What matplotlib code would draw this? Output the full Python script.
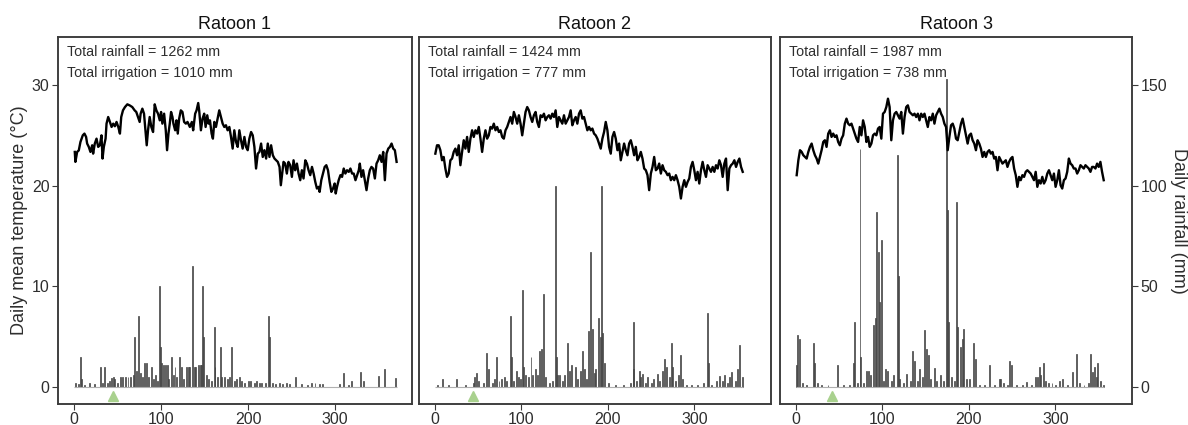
import numpy as np
import matplotlib.pyplot as plt

plt.rcParams['font.family'] = ['Liberation Sans', 'DejaVu Sans']

# panel titles and season totals
titles = ['Ratoon 1', 'Ratoon 2', 'Ratoon 3']
total_rain = [1262, 1424, 1987]
total_irrig = [1010, 777, 738]
planting_day = [45, 44, 42]

# daily mean temperature (deg C), ratoon 1
day_1 = [0.8, 1.5, 3.5, 5.4, 7.3, 10, 11.9, 13.8, 15, 16.9,
         18.8, 20.8, 21.9, 23.8, 25.8, 27.7, 29.6, 31.5, 32.7, 34.2,
         36.2, 37.3, 39.2, 41.2, 43.1, 45, 46.9, 48.8, 50.8, 52.7,
         54.2, 56.2, 58.5, 61.2, 63.8, 66.9, 69.6, 71.5, 73.5, 75.4,
         76.5, 78.5, 80.4, 82.3, 83.5, 85, 86.9, 88.8, 90.8, 92.7,
         94.6, 96.5, 98.5, 100, 101.5, 103.5, 105.4, 106.9, 108.5, 110,
         111.5, 113.1, 114.2, 116.2, 117.7, 119.2, 120.8, 122.7, 124.6, 126.5,
         128.5, 130.4, 133.1, 135.4, 136.9, 139.2, 140.8, 142.7, 143.8, 145.8,
         147.7, 149.6, 151.2, 153.1, 154.6, 156.2, 158.1, 159.6, 161.2, 163.1,
         165, 166.9, 168.8, 170.8, 172.7, 174.6, 176.5, 178.5, 180.4, 182.3,
         184.2, 186.2, 188.1, 190, 191.9, 193.8, 195.8, 197.7, 199.6, 201.5,
         203.5, 205.4, 207.3, 209.2, 211.2, 213.1, 215, 216.9, 218.8, 220.8,
         222.7, 224.6, 226.5, 228.5, 230.4, 232.3, 234.2, 236.2, 237.7, 239.2,
         240.8, 242.7, 244.6, 246.5, 248.5, 250.4, 252.3, 254.2, 256.2, 258.1,
         260, 261.9, 263.8, 265.8, 267.7, 269.6, 271.5, 273.5, 275.4, 277.3,
         279.2, 281.2, 282.3, 284.2, 286.2, 288.1, 290, 291.9, 293.8, 295.8,
         297.7, 299.6, 300.8, 302.3, 304.2, 306.2, 308.1, 310, 311.9, 313.8,
         315.8, 317.7, 319.6, 321.5, 323.5, 325.4, 327.3, 328.5, 330.4, 332.3,
         334.2, 336.2, 338.1, 340, 341.9, 343.8, 345.8, 347.7, 349.6, 351.5,
         353.5, 355.4, 357.3, 359.2, 361.2, 363.1, 365, 366.9, 368.8, 370.8]
temp_1 = [23.35, 22.36, 23.35, 23.5, 24.34, 25.0, 25.17, 24.84, 24.18, 23.85,
          23.35, 24.01, 23.18, 24.18, 24.67, 23.85, 24.01, 25.0, 22.69, 23.85,
          24.67, 26.16, 26.82, 26.33, 25.83, 26.16, 25.9, 26.33, 25.83, 25.17,
          26.82, 27.48, 27.81, 28.08, 27.98, 27.81, 27.48, 27.32, 26.82, 26.33,
          27.15, 27.65, 27.15, 25.17, 24.01, 25.5, 26.82, 25.83, 25.33, 28.08,
          27.48, 27.15, 26.49, 27.32, 26.16, 27.15, 25.5, 23.52, 25.17, 26.16,
          27.32, 26.82, 26.16, 25.5, 26.49, 25.17, 26.66, 27.48, 27.32, 26.33,
          26.16, 26.33, 25.83, 26.33, 25.5, 27.15, 27.48, 28.21, 27.48, 25.5,
          26.66, 27.15, 25.83, 26.99, 26.16, 26.49, 25.17, 24.67, 26.33, 25.83,
          26.66, 27.48, 26.82, 26.16, 25.83, 26.0, 25.5, 25.83, 24.84, 23.68,
          25.5, 24.34, 23.85, 25.5, 24.51, 23.68, 24.84, 23.85, 23.52, 24.67,
          25.33, 25.0, 23.85, 21.7, 23.18, 23.35, 24.18, 22.85, 23.52, 22.69,
          24.18, 22.85, 24.01, 23.02, 22.69, 22.52, 22.36, 21.86, 20.04, 21.2,
          22.36, 22.19, 21.2, 22.36, 22.03, 20.87, 22.52, 21.53, 22.19, 21.2,
          20.54, 21.53, 20.71, 22.52, 22.19, 21.53, 21.04, 21.86, 21.2, 20.37,
          19.71, 19.88, 19.38, 20.54, 21.2, 21.86, 22.03, 21.53, 20.37, 19.38,
          19.71, 20.21, 19.22, 19.88, 20.54, 21.04, 20.87, 21.7, 21.2, 21.53,
          21.37, 21.7, 21.2, 21.2, 20.54, 21.04, 21.53, 22.19, 20.87, 21.53,
          20.54, 19.55, 20.71, 21.53, 21.86, 21.7, 20.71, 22.19, 22.52, 23.02,
          22.36, 23.35, 20.54, 23.18, 23.68, 23.85, 24.18, 23.68, 23.52, 22.36]

# ratoon 2, read about every 1.9 days from day 0.4 to 355.8
temp_2 = [23.18, 24.01, 24.01, 23.52, 22.52, 22.85, 21.7, 20.87, 21.2, 22.52,
          22.69, 23.35, 23.68, 23.02, 24.01, 22.03, 23.35, 24.51, 23.68, 24.84,
          23.35, 24.67, 25.5, 24.84, 25.5, 25.17, 25.83, 24.67, 23.35, 24.67,
          25.5, 24.67, 25.0, 25.83, 25.67, 26.16, 25.5, 25.83, 25.33, 25.5,
          24.84, 24.67, 25.5, 25.83, 26.33, 26.82, 26.16, 27.32, 26.82, 26.16,
          26.99, 26.16, 25.0, 26.16, 27.32, 27.81, 27.48, 26.82, 26.33, 26.99,
          27.32, 26.33, 25.83, 26.99, 26.82, 27.15, 26.49, 26.82, 26.99, 26.66,
          27.15, 26.82, 27.48, 25.83, 26.82, 26.49, 26.16, 26.99, 26.16, 26.49,
          26.82, 27.48, 26.0, 26.49, 26.82, 26.16, 27.15, 27.48, 26.66, 26.82,
          26.16, 25.5, 25.83, 25.5, 25.67, 25.17, 25.0, 24.67, 24.18, 23.68,
          24.67, 25.33, 26.33, 25.5, 23.85, 23.18, 24.84, 25.33, 24.67, 23.52,
          24.18, 22.52, 23.35, 24.18, 23.52, 23.02, 24.18, 24.51, 23.85, 23.02,
          23.85, 22.52, 22.85, 23.35, 22.69, 21.7, 21.53, 21.04, 19.55, 21.2,
          21.86, 22.85, 21.53, 21.7, 22.19, 21.2, 22.03, 21.53, 21.37, 21.04,
          21.2, 20.54, 20.87, 20.54, 21.04, 20.54, 19.88, 18.72, 19.88, 20.54,
          19.88, 20.37, 20.71, 21.86, 22.36, 21.53, 20.54, 21.37, 20.21, 21.53,
          22.36, 21.53, 20.87, 22.03, 21.7, 21.37, 21.86, 21.37, 22.03, 21.7,
          22.52, 22.03, 20.87, 22.19, 22.69, 19.55, 21.7, 22.03, 22.19, 22.52,
          21.86, 22.36, 22.69, 21.86, 21.37]
day_2 = np.linspace(0.4, 355.8, len(temp_2))

# ratoon 3, read about every 1.9 days from day 0.8 to 355.8
temp_3 = [21.04, 22.52, 23.52, 23.35, 23.02, 22.85, 22.69, 23.35, 23.85, 24.18,
          23.52, 23.02, 22.69, 22.19, 22.85, 23.52, 24.34, 24.51, 23.85, 25.17,
          25.5, 24.84, 25.17, 24.84, 25.0, 24.34, 24.01, 24.67, 25.0, 26.16,
          26.66, 26.16, 26.0, 26.16, 25.67, 25.17, 24.67, 24.34, 25.83, 25.0,
          26.49, 25.83, 24.34, 24.84, 23.85, 24.18, 25.0, 25.17, 25.0, 25.67,
          25.83, 24.67, 27.15, 27.32, 27.81, 28.64, 27.81, 24.51, 26.49, 27.15,
          27.32, 26.99, 26.66, 27.32, 25.17, 26.82, 27.81, 27.98, 27.32, 27.15,
          26.99, 27.15, 26.82, 27.15, 26.49, 27.15, 26.82, 27.15, 26.49, 25.83,
          26.82, 26.49, 27.15, 26.16, 26.99, 27.32, 27.65, 27.15, 26.82, 26.16,
          25.83, 23.52, 24.84, 26.0, 26.16, 25.67, 24.67, 24.51, 25.33, 26.16,
          26.66, 25.83, 25.0, 24.18, 25.0, 25.17, 24.51, 24.18, 23.52, 24.51,
          24.18, 23.68, 22.85, 23.35, 22.85, 23.35, 23.52, 23.18, 23.35, 22.69,
          22.85, 21.53, 22.85, 22.52, 22.19, 22.36, 22.52, 21.86, 22.36, 22.69,
          22.85, 21.7, 21.04, 19.88, 20.87, 20.54, 21.04, 20.87, 21.37, 21.53,
          21.37, 21.2, 20.87, 20.54, 21.37, 19.88, 20.54, 20.21, 20.87, 20.21,
          20.54, 21.2, 21.53, 21.04, 20.54, 21.2, 19.88, 20.54, 21.53, 20.04,
          19.71, 20.54, 20.71, 21.37, 22.69, 22.19, 22.03, 21.7, 21.7, 21.2,
          21.53, 22.03, 21.86, 21.7, 22.03, 21.86, 21.7, 21.37, 21.86, 21.86,
          21.7, 22.19, 21.86, 22.36, 21.37, 20.54]
day_3 = np.linspace(0.8, 355.8, len(temp_3))

# daily rainfall (mm), only days with rain listed
rain_day_1 = [2, 5, 7, 9, 12, 18, 24, 30, 33, 35, 38, 41, 43, 45, 47, 50, 53, 56, 59, 62,
              65, 68, 70, 72, 74, 76, 79, 81, 83, 86, 89, 91, 94, 96, 98, 99, 101, 103, 105, 107,
              109, 112, 114, 116, 118, 121, 124, 126, 129, 131, 133, 136, 138, 140, 143, 145, 147, 148, 149, 152,
              155, 158, 161, 162, 165, 168, 170, 173, 176, 179, 181, 184, 187, 190, 193, 196, 200, 203, 207, 210,
              213, 216, 220, 224, 225, 228, 232, 236, 240, 244, 248, 255, 262, 268, 273, 277, 282, 286, 305, 310,
              315, 319, 329, 333, 350, 357, 370]
rain_1 = [2, 1.5, 15, 4, 1, 2, 1.5, 10, 2, 10, 2, 3, 4.5, 5, 4, 2, 5, 5, 5, 5,
          5, 6, 25, 8, 35, 7, 5, 12, 12, 5, 10, 4, 6, 3, 50, 20, 12, 11, 11, 11,
          4, 15, 6, 10, 5, 15, 10, 4, 10, 10, 10, 60, 10, 10, 11, 11, 11, 50, 25, 6,
          4, 3, 30, 10, 5, 20, 5, 5, 4, 5, 20, 3, 4, 5, 3, 2, 3, 3, 2, 3,
          2, 2, 2, 35, 25, 2, 1.5, 2, 1.5, 2, 1.5, 5, 1.5, 1, 2, 2, 1.5, 1.5, 1.5, 7,
          1, 3, 7.5, 3, 5.5, 9, 4.5]

rain_day_2 = [3, 9, 16, 25, 35, 44, 46, 48, 50, 56, 59, 62, 66, 69, 71, 74, 77, 80, 83, 87,
              88, 91, 94, 97, 99, 101, 102, 105, 108, 111, 113, 116, 119, 121, 123, 126, 128, 132, 136, 139,
              140, 142, 144, 147, 150, 153, 155, 158, 162, 165, 168, 171, 173, 175, 177, 180, 182, 184, 186, 189,
              191, 193, 194, 196, 201, 209, 218, 226, 229, 230, 233, 236, 238, 240, 243, 246, 250, 253, 257, 260,
              263, 265, 268, 271, 273, 275, 278, 282, 284, 286, 291, 297, 303, 310, 315, 316, 320, 326, 329, 332,
              335, 338, 340, 343, 347, 350, 352, 355]
rain_2 = [1, 4, 1, 4, 1, 2, 5, 7, 3, 2, 17, 9, 2, 4, 15, 3, 4, 5, 3, 35,
          15, 3, 8, 5, 4, 48, 10, 6, 5, 15, 6, 9, 6, 18, 19, 46, 5, 2, 3, 100,
          15, 6, 6, 3, 6, 22, 8, 11, 10, 4, 8, 18, 9, 4, 28, 67, 29, 7, 9, 34,
          25, 100, 27, 12, 2, 1, 1, 2, 9, 32, 3, 8, 5, 6.5, 2, 5, 2, 4, 6.5, 3,
          8, 14, 10, 5, 22, 10, 3, 6, 16, 4, 1, 1, 1, 2, 36.5, 12, 1, 3, 5.5, 3,
          6, 2, 5, 7.5, 3, 9, 21, 5]

rain_day_3 = [1, 2, 4, 7, 12, 20, 21, 25, 30, 37, 48, 55, 62, 66, 68, 71, 74, 75, 78, 82,
              84, 86, 90, 92, 93, 95, 97, 99, 101, 104, 106, 110, 113, 117, 118, 120, 124, 128, 132, 135,
              137, 140, 143, 146, 149, 151, 153, 156, 160, 163, 167, 171, 174, 175, 176, 180, 183, 186, 187, 190,
              192, 194, 197, 201, 205, 208, 212, 218, 224, 230, 235, 237, 240, 244, 247, 249, 255, 262, 267, 272,
              277, 279, 281, 283, 286, 289, 292, 296, 300, 305, 308, 314, 320, 324, 328, 333, 338, 341, 343, 345,
              347, 349, 352, 355]
rain_3 = [11, 26, 24, 2, 1, 22, 12, 2, 1, 1, 11, 1, 1, 12, 32, 2, 118, 15, 2, 8,
          8, 6, 31, 34, 87, 67, 42, 73, 3, 9, 8, 3, 6, 115, 55, 4, 2, 6.5, 3, 18,
          12.7, 3, 9, 5, 28.5, 19, 16, 4, 9.5, 3, 6, 3, 153, 88, 32, 5, 3, 92, 30, 20,
          24, 29, 4, 4, 21.7, 14, 1, 1, 11, 1, 4, 4, 2, 1, 13, 11, 1, 1, 2.6, 1,
          5, 5, 9.8, 6, 12, 3, 2, 2, 1, 3, 4, 1, 7.6, 16.4, 2, 1, 2, 16.4, 7.6, 9.8,
          5, 12, 3, 1]

temp_days = [day_1, day_2, day_3]
temps = [temp_1, temp_2, temp_3]
rain_days = [rain_day_1, rain_day_2, rain_day_3]
rains = [rain_1, rain_2, rain_3]

fig = plt.figure(figsize=(11.88, 4.25), dpi=100)
lefts = [58 / 1188, 419 / 1188, 780 / 1188]
widths = [354 / 1188, 352 / 1188, 352 / 1188]

frame_col = '#3a3a3a'
text_col = '#2e2e2e'

for i in range(3):
    ax = fig.add_axes([lefts[i], 21 / 425, widths[i], 367 / 425])
    axr = ax.twinx()
    # temperature on top of the rain bars
    ax.set_zorder(axr.get_zorder() + 1)
    ax.patch.set_visible(False)

    # rainfall bars and zero baseline
    axr.hlines(0, 0, max(temp_days[i]), color='#b0b0b0', lw=0.8)
    axr.bar(rain_days[i], rains[i], width=1.1, color='#7a7a7a',
            edgecolor='#3c3c3c', linewidth=0.5)
    axr.plot(planting_day[i], -4.6, marker='^', color='#a9d18e',
             markersize=7, clip_on=False)

    ax.plot(temp_days[i], temps[i], color='black', lw=1.7)

    ax.set_xlim(-18.5, 388.5)
    ax.set_ylim(-1.7, 34.77)
    axr.set_ylim(-8.5, 173.85)
    ax.set_xticks([0, 100, 200, 300])
    ax.set_yticks([0, 10, 20, 30])
    axr.set_yticks([0, 50, 100, 150])

    for a in (ax, axr):
        for s in a.spines.values():
            s.set_color(frame_col)
            s.set_linewidth(1.1)
        a.tick_params(colors=frame_col, labelcolor=text_col, labelsize=11.5,
                      length=4, width=0.8, pad=2)

    if i == 0:
        ax.set_ylabel('Daily mean temperature (°C)', fontsize=13,
                      color=text_col, labelpad=3)
    else:
        ax.tick_params(axis='y', left=False, labelleft=False)
    if i == 2:
        axr.set_ylabel('Daily rainfall (mm)', fontsize=13, color=text_col,
                       rotation=270, va='bottom', labelpad=2)
    else:
        axr.tick_params(axis='y', right=False, labelright=False)

    ax.set_title(titles[i], fontsize=13, color='#111111', pad=6)
    ax.text(0.025, 0.959, 'Total rainfall = %d mm' % total_rain[i],
            transform=ax.transAxes, fontsize=10.3, va='center', color=text_col)
    ax.text(0.025, 0.902, 'Total irrigation = %d mm' % total_irrig[i],
            transform=ax.transAxes, fontsize=10.3, va='center', color=text_col)

fig.savefig('out.png', dpi=100)
